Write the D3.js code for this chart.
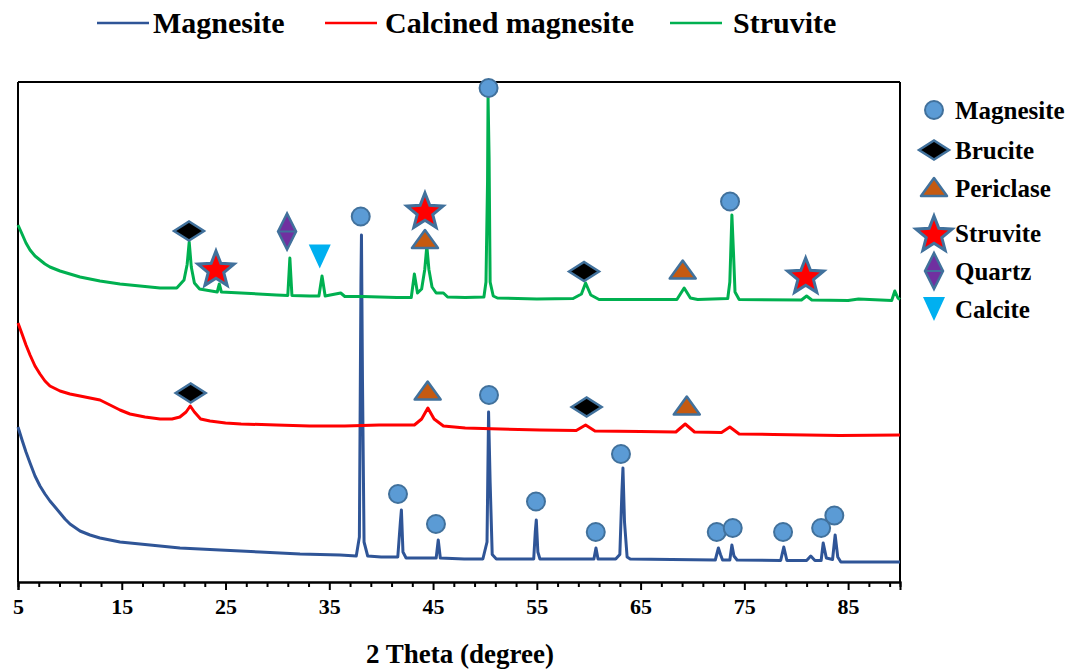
<!DOCTYPE html>
<html>
<head>
<meta charset="utf-8">
<script src="https://cdn.jsdelivr.net/npm/d3@7"></script>
<style>
  html, body { margin: 0; padding: 0; background: #fff; }
  svg { display: block; }
  text { font-family: "Liberation Serif", "Times New Roman", serif; font-weight: bold; fill: #000; }
</style>
</head>
<body>
<svg id="chart" width="1082" height="672"></svg>
<script>
// ---------- DATA ----------
const seriesNames = ["Magnesite", "Calcined magnesite", "Struvite"];
const xTickLabels = [5, 15, 25, 35, 45, 55, 65, 75, 85];
const xMinorTicks = [7, 9, 11, 13, 17, 19, 21, 23, 27, 29, 31, 33, 37, 39, 41, 43, 47, 49, 51, 53, 57, 59, 61, 63, 67, 69, 71, 73, 77, 79, 81, 83, 87, 89];
const xAxisTitle = "2 Theta (degree)";

// [2θ, intensity (a.u.)]
const magnesite = [
  [5.0, 31.0], [5.39, 28.4], [5.77, 26.0], [6.16, 23.8], [6.64, 21.2], [7.12, 19.2], [7.6, 17.6], [8.08, 16.2],
  [8.57, 15.0], [9.05, 13.8], [9.53, 12.6], [10.01, 11.6], [10.98, 10.2], [11.94, 9.4], [12.9, 8.8],
  [14.83, 8.0], [17.72, 7.4], [20.61, 6.8], [24.47, 6.4], [28.32, 6.0], [32.18, 5.6], [36.04, 5.4],
  [37.6, 5.2], [37.9, 9], [38.05, 60], [38.1, 69.4], [38.2, 40], [38.35, 8], [38.7, 5.2], [40, 5.0],
  [41.6, 5.0], [41.85, 12], [41.95, 14.4], [42.1, 6], [42.4, 4.8], [44, 4.8], [45.3, 4.8], [45.5, 8.4],
  [45.7, 4.8], [48, 4.6], [49.8, 4.6], [50.2, 8], [50.35, 34.0], [50.5, 20], [50.7, 5.5], [51.1, 4.6],
  [53, 4.6], [54.7, 4.6], [54.85, 10], [54.95, 12.4], [55.1, 6], [55.3, 4.6], [58, 4.6], [60.5, 4.6],
  [60.7, 6.8], [60.9, 4.6], [62.6, 4.6], [63.0, 5.5], [63.2, 18], [63.3, 22.8], [63.45, 12], [63.7, 5],
  [64.0, 4.6], [68, 4.5], [72.2, 4.4], [72.5, 6.8], [72.7, 5.5], [72.9, 4.4], [73.6, 4.4], [73.8, 7.4],
  [74.0, 5.2], [74.3, 4.4], [78.5, 4.3], [78.8, 7.0], [79.1, 4.3], [81.0, 4.3], [81.4, 5.2], [81.8, 4.3],
  [82.4, 4.3], [82.6, 7.8], [82.9, 4.8], [83.5, 4.5], [83.75, 9.4], [84.0, 5.0], [84.3, 4.0], [87, 4.0], [90, 4.0]
];
const calcinedMagnesite = [
  [5.0, 51.8], [5.39, 49.6], [5.77, 47.4], [6.16, 45.4], [6.64, 43.2], [7.12, 41.6], [7.6, 40.2], [8.08, 39.2],
  [9.05, 38.2], [10.01, 37.6], [10.98, 37.2], [11.94, 36.8], [12.9, 36.4], [13.87, 35.4], [14.83, 34.4],
  [15.79, 33.6], [17.24, 33.0], [18.69, 32.6], [19.84, 32.6], [20.6, 33.0], [21.2, 34.0], [21.6, 35.2],
  [22.0, 34.0], [22.6, 32.6], [23.5, 32.2], [25.0, 31.8], [26.5, 31.6], [29.9, 31.4], [33.1, 31.2],
  [36.5, 31.2], [39.8, 31.4], [43.2, 31.4], [43.9, 32.6], [44.5, 34.8], [45.1, 32.6], [46.0, 31.2],
  [48.1, 30.8], [51.5, 30.6], [55.3, 30.4], [58.8, 30.3], [59.7, 31.4], [60.6, 30.2], [65.0, 30.1],
  [68.4, 30.0], [69.3, 31.6], [70.2, 30.0], [72.8, 29.9], [73.6, 31.0], [74.5, 29.6], [77.8, 29.5],
  [84.2, 29.3], [90, 29.4]
];
const struvite = [
  [5.0, 71.4], [5.39, 69.6], [5.77, 67.8], [6.16, 66.4], [6.64, 65.2], [7.12, 64.4], [7.6, 63.6], [8.08, 63.0],
  [9.05, 62.2], [10.01, 61.6], [10.98, 61.0], [12.9, 60.2], [14.83, 59.6], [16.76, 59.2], [18.69, 58.8],
  [20.3, 58.8], [21.0, 60.4], [21.3, 63.5], [21.5, 68.0], [21.7, 63], [22.0, 59.8], [22.5, 58.6],
  [24.2, 58.0], [24.4, 59.6], [24.6, 58.0], [26.5, 57.8], [29.9, 57.4], [31.0, 57.3], [31.2, 64.8],
  [31.4, 57.3], [33.1, 57.2], [34.0, 57.2], [34.3, 61.2], [34.6, 57.2], [36.1, 57.8], [36.5, 57.1],
  [38.2, 57.1], [41.5, 56.9], [42.9, 56.9], [43.2, 61.6], [43.5, 57.8], [43.9, 58.6], [44.2, 62.5],
  [44.4, 67.2], [44.6, 62.5], [44.9, 59], [45.3, 57.8], [46.0, 57.8], [46.4, 57.0], [48.1, 56.9],
  [49.9, 57.0], [50.1, 60], [50.25, 80], [50.3, 97.0], [50.4, 85], [50.5, 60], [50.8, 57.2], [51.2, 56.8],
  [55, 56.6], [58.5, 56.7], [59.3, 57.6], [59.7, 59.8], [60.2, 57.4], [61, 56.5], [68.5, 56.5], [69.2, 58.8],
  [69.8, 56.8], [70.5, 56.5], [73.4, 56.7], [73.6, 60], [73.8, 73.4], [73.95, 66], [74.1, 58], [74.5, 56.5],
  [80.5, 56.4], [81.0, 57.2], [81.5, 56.4], [85, 56.3], [86, 56.6], [89.2, 56.3], [89.5, 58.2], [89.8, 56.8],
  [90, 56.5]
];

const phaseNames = ["Magnesite", "Brucite", "Periclase", "Struvite", "Quartz", "Calcite"];
// peak markers: [phase, 2θ, intensity]
const peakMarkers = [
  ["Brucite", 21.48, 70.2], ["Struvite", 24.08, 62.8], ["Quartz", 30.93, 70.1], ["Calcite", 34.08, 65.1],
  ["Magnesite", 38.03, 73.1], ["Struvite", 44.22, 74.4], ["Periclase", 44.22, 68.4], ["Magnesite", 50.35, 98.8],
  ["Brucite", 59.55, 62.1], ["Periclase", 69.06, 62.3], ["Magnesite", 73.62, 76.1], ["Struvite", 80.91, 61.4],
  ["Brucite", 21.64, 37.8], ["Periclase", 44.48, 38.1], ["Magnesite", 50.39, 37.4], ["Brucite", 59.8, 35.0],
  ["Periclase", 69.45, 35.1],
  ["Magnesite", 41.62, 17.6], ["Magnesite", 45.28, 11.6], ["Magnesite", 54.92, 16.1], ["Magnesite", 60.68, 10.0],
  ["Magnesite", 63.11, 25.6], ["Magnesite", 72.34, 10.0], ["Magnesite", 73.88, 10.8], ["Magnesite", 78.73, 10.0],
  ["Magnesite", 82.4, 10.8], ["Magnesite", 83.67, 13.3]
];

// ---------- CHART ----------
const svg = d3.select("#chart");
const plot = { left: 18, right: 900, top: 82, bottom: 582 };

const x = d3.scaleLinear().domain([5, 90]).range([plot.left, plot.right]);
const y = d3.scaleLinear().domain([0, 100]).range([plot.bottom, plot.top]);

const seriesColors = ["#2f5597", "#ff0000", "#00b050"];
const seriesData = [magnesite, calcinedMagnesite, struvite];

// frame (top, right, left)
const frame = svg.append("g").attr("stroke", "#000").attr("stroke-width", 2);
frame.append("line").attr("x1", plot.left).attr("x2", plot.right).attr("y1", plot.top).attr("y2", plot.top);
frame.append("line").attr("x1", plot.right).attr("x2", plot.right).attr("y1", plot.top).attr("y2", plot.bottom);
frame.append("line").attr("x1", plot.left).attr("x2", plot.left).attr("y1", plot.top).attr("y2", plot.bottom);

// curves
const line = d3.line().x(d => x(d[0])).y(d => y(d[1]));
const curves = svg.append("g");
seriesData.forEach((s, i) => {
  curves.append("path").datum(s)
    .attr("d", line)
    .attr("fill", "none")
    .attr("stroke", seriesColors[i])
    .attr("stroke-width", 3)
    .attr("stroke-linejoin", "round");
});

// axis
const majorAxis = d3.axisBottom(x).tickValues(xTickLabels).tickSize(8).tickPadding(8).tickFormat(d => d);
const minorAxis = d3.axisBottom(x).tickValues(xMinorTicks).tickSize(5).tickFormat("");
const gMinor = svg.append("g").attr("transform", `translate(0,${plot.bottom})`).call(minorAxis);
const gMajor = svg.append("g").attr("transform", `translate(0,${plot.bottom})`).call(majorAxis);
[gMinor, gMajor].forEach(g => {
  g.select(".domain").attr("stroke", "#000").attr("stroke-width", 2);
  g.selectAll(".tick line").attr("stroke", "#000").attr("stroke-width", 2);
});
gMajor.selectAll(".tick text")
  .attr("font-family", "Liberation Serif, Times New Roman, serif")
  .attr("font-weight", "bold")
  .attr("font-size", 22)
  .attr("fill", "#000");

svg.append("text")
  .attr("x", 460).attr("y", 663)
  .attr("text-anchor", "middle")
  .attr("font-size", 27)
  .text(xAxisTitle);

// marker shapes
const outline = "#41719c";
function drawMarker(g, phase) {
  if (phase === "Magnesite") {
    g.append("circle").attr("r", 9).attr("fill", "#5b9bd5").attr("stroke", outline).attr("stroke-width", 2);
  } else if (phase === "Brucite") {
    g.append("path").attr("d", "M-15,0 L0,-9.5 L15,0 L0,9.5 Z")
      .attr("fill", "#000").attr("stroke", outline).attr("stroke-width", 2.5);
  } else if (phase === "Periclase") {
    g.append("path").attr("d", "M0,-10 L13,8 L-13,8 Z")
      .attr("fill", "#c55a11").attr("stroke", outline).attr("stroke-width", 2.5).attr("stroke-linejoin", "round");
  } else if (phase === "Struvite") {
    const R = 19, r = 8.2;
    const pts = d3.range(10).map(k => {
      const a = -Math.PI / 2 + k * Math.PI / 5;
      const rad = k % 2 === 0 ? R : r;
      return [rad * Math.cos(a), rad * Math.sin(a) + 2];
    });
    g.append("path").attr("d", "M" + pts.map(p => p.join(",")).join("L") + "Z")
      .attr("fill", "#ff0000").attr("stroke", outline).attr("stroke-width", 3).attr("stroke-linejoin", "miter");
  } else if (phase === "Quartz") {
    g.append("path").attr("d", "M0,-18 L9,0 L0,18 L-9,0 Z")
      .attr("fill", "#7030a0").attr("stroke", outline).attr("stroke-width", 2.5);
    g.append("line").attr("x1", -9).attr("x2", 9).attr("y1", 0).attr("y2", 0)
      .attr("stroke", outline).attr("stroke-width", 2);
  } else if (phase === "Calcite") {
    g.append("path").attr("d", "M-11,-12 L11,-12 L0,12 Z").attr("fill", "#00b0f0");
  }
}

const markerLayer = svg.append("g");
peakMarkers.forEach(m => {
  const g = markerLayer.append("g").attr("transform", `translate(${x(m[1])},${y(m[2])})`);
  drawMarker(g, m[0]);
});

// top legend
const topLegendPos = [{ lx: 97, tx: 153 }, { lx: 325, tx: 385 }, { lx: 670, tx: 733 }];
const topLegend = svg.append("g");
seriesNames.forEach((name, i) => {
  const p = topLegendPos[i];
  topLegend.append("line").attr("x1", p.lx).attr("x2", p.lx + 52).attr("y1", 23).attr("y2", 23)
    .attr("stroke", seriesColors[i]).attr("stroke-width", 2.5);
  topLegend.append("text").attr("x", p.tx).attr("y", 33).attr("font-size", 30).text(name);
});

// right legend (phases)
const phaseLegendY = [110, 150, 188, 233, 271, 309];
const phaseLegend = svg.append("g");
phaseNames.forEach((name, i) => {
  const g = phaseLegend.append("g").attr("transform", `translate(934,${phaseLegendY[i]})`);
  drawMarker(g, name);
  phaseLegend.append("text").attr("x", 955).attr("y", phaseLegendY[i] + 9).attr("font-size", 25).text(name);
});
</script>
</body>
</html>
